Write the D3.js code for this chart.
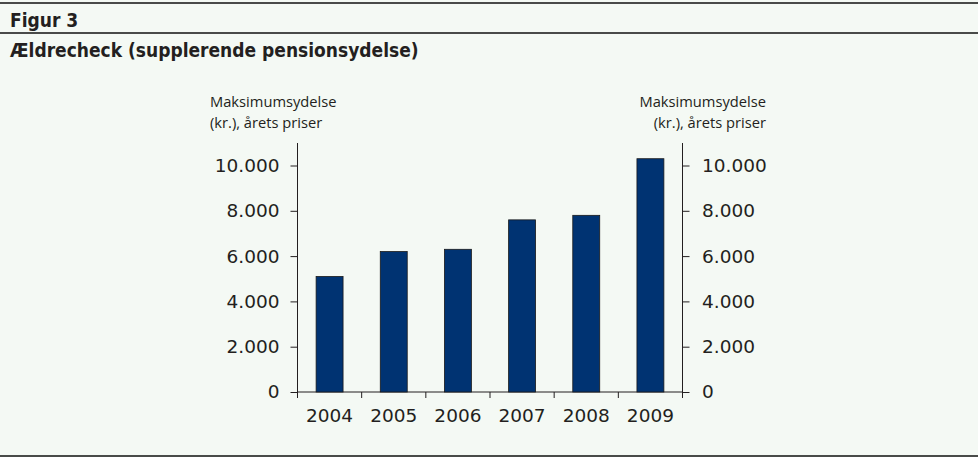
<!DOCTYPE html>
<html>
<head>
<meta charset="utf-8">
<script src="https://cdn.jsdelivr.net/npm/d3@7"></script>
<style>
  body { margin: 0; background: #f4f9f4; }
  svg { display: block; }
  text { fill: #231f20; }
</style>
</head>
<body>
<div id="chart"></div>
<script>
const years = ['2004', '2005', '2006', '2007', '2008', '2009'];
const amounts = [5100, 6200, 6300, 7600, 7800, 10300];
const yTicks = [0, 2000, 4000, 6000, 8000, 10000];
const axisTitle = ['Maksimumsydelse', '(kr.), årets priser'];

const W = 978, H = 457;
const svg = d3.select('#chart').append('svg')
    .attr('width', W)
    .attr('height', H);

svg.append('rect')
    .attr('width', W)
    .attr('height', H)
    .attr('fill', '#f4f9f4');

// header rules
[3, 33, 456].forEach(yy => {
    svg.append('line')
        .attr('x1', 0).attr('x2', W)
        .attr('y1', yy).attr('y2', yy)
        .attr('stroke', '#111')
        .attr('stroke-width', 1.6);
});

const titleFont = 'bold 19px "DejaVu Sans Condensed", "DejaVu Sans"';
svg.append('text')
    .attr('x', 10).attr('y', 27)
    .style('font', titleFont)
    .text('Figur 3');

svg.append('text')
    .attr('x', 10).attr('y', 57)
    .style('font', titleFont)
    .text('Ældrecheck (supplerende pensionsydelse)');

const plotLeft = 297.5, plotRight = 682.5, plotTop = 143, plotBottom = 392;

const x = d3.scaleBand()
    .domain(years)
    .range([plotLeft, plotRight])
    .paddingInner(0.58)
    .paddingOuter(0.29);

const y = d3.scaleLinear()
    .domain([0, 11000])
    .range([plotBottom, plotBottom - 22.65 * 11]);

const fmt = d => d3.format(',')(d).replace(/,/g, '.');
const font = '18.5px "DejaVu Sans", sans-serif';

svg.append('g')
    .attr('transform', `translate(${plotLeft},0)`)
    .call(d3.axisLeft(y).tickValues(yTicks).tickFormat(fmt).tickSize(7).tickPadding(11).tickSizeOuter(0))
    .call(g => g.select('.domain').attr('d', `M0,${plotTop}V${plotBottom}`))
    .call(g => g.selectAll('text').style('font', font).attr('fill', '#231f20'));

svg.append('g')
    .attr('transform', `translate(${plotRight},0)`)
    .call(d3.axisRight(y).tickValues(yTicks).tickFormat(fmt).tickSize(7).tickPadding(12.5).tickSizeOuter(0))
    .call(g => g.select('.domain').attr('d', `M0,${plotTop}V${plotBottom}`))
    .call(g => g.selectAll('text').style('font', font).attr('fill', '#231f20'));

// x axis with ticks between bands
const xg = svg.append('g')
    .attr('transform', `translate(0,${plotBottom})`);
xg.append('line')
    .attr('x1', plotLeft).attr('x2', plotRight)
    .attr('stroke', '#231f20');
const step = x.step();
d3.range(years.length + 1).forEach(i => {
    xg.append('line')
        .attr('x1', plotLeft + i * step).attr('x2', plotLeft + i * step)
        .attr('y1', 0).attr('y2', 6)
        .attr('stroke', '#231f20');
});
xg.selectAll('text.yr')
    .data(years)
    .join('text')
    .attr('class', 'yr')
    .attr('x', d => x(d) + x.bandwidth() / 2)
    .attr('y', 30)
    .attr('text-anchor', 'middle')
    .style('font', font)
    .text(d => d);

svg.selectAll('rect.bar')
    .data(years)
    .join('rect')
    .attr('class', 'bar')
    .attr('x', d => x(d))
    .attr('width', x.bandwidth())
    .attr('y', (d, i) => y(amounts[i]))
    .attr('height', (d, i) => plotBottom - y(amounts[i]))
    .attr('fill', '#003372')
    .attr('stroke', '#1a1a1a')
    .attr('stroke-width', 0.8);

svg.selectAll('.tick line, .domain')
    .attr('stroke', '#231f20');

// axis titles, two lines each
const labelFont = '14.7px "Open Sans", "Noto Sans", sans-serif';
[[210, 'start'], [766, 'end']].forEach(([lx, anchor]) => {
    axisTitle.forEach((line, i) => {
        svg.append('text')
            .attr('x', lx)
            .attr('y', 107.4 + i * 20.3)
            .attr('text-anchor', anchor)
            .style('font', labelFont)
            .text(line);
    });
});
</script>
</body>
</html>
